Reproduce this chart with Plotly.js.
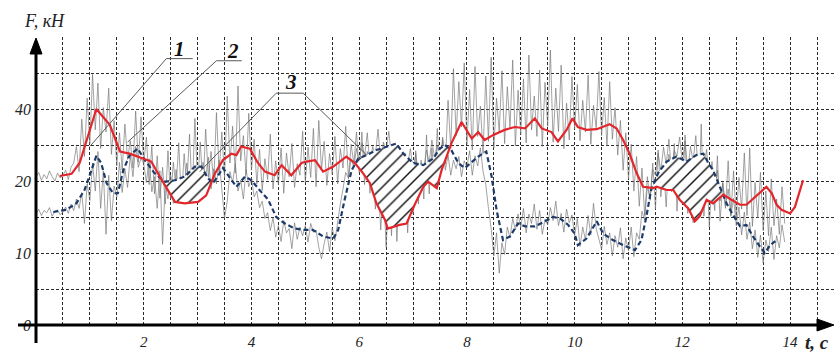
<!DOCTYPE html>
<html>
<head>
<meta charset="utf-8">
<script src="https://cdn.plot.ly/plotly-3.0.1.min.js"></script>
<style>html,body{margin:0;padding:0;background:#fff;}#chart{width:834px;height:352px;}</style>
</head>
<body>
<div id="chart"></div>
<script>
// ---- data ----
const xTickVals = [2, 4, 6, 8, 10, 12, 14];
const xTickText = ['2', '4', '6', '8', '10', '12', '14'];
const yTickVals = [0, 10, 20, 30];
const yTickText = ['0', '10', '20', '40'];

// raw measured force, upper record (sampled every 0.05 s from t = 0)
const grayUpper = [
  20.5,21.2,20.1,20.9,20.3,21.4,20.6,20.0,21.1,20.4,20.8,21.5,20.2,21.9,22.5,24.8,21.3,28.6,23.4,31.5,
  25.2,34.8,27.1,33.6,24.5,30.2,26.8,32.9,23.7,28.4,22.1,26.7,21.5,27.9,23.0,25.6,21.8,29.7,22.6,28.9,
  22.4,26.1,19.5,24.8,18.2,23.5,17.6,21.9,16.8,24.2,17.5,22.6,18.9,25.3,17.2,23.8,19.4,26.5,18.1,28.7,
  19.6,25.4,18.8,27.2,20.5,24.1,19.7,29.5,21.3,26.8,20.4,31.8,22.5,27.6,21.1,33.2,22.8,26.3,20.9,29.4,
  21.5,25.8,19.6,24.4,18.7,23.1,20.2,26.5,18.9,22.8,19.5,24.6,18.3,23.9,20.6,25.2,19.1,22.4,20.8,26.9,
  19.8,24.7,20.5,27.3,19.2,28.4,21.6,25.5,19.4,23.8,20.9,26.2,19.6,24.5,21.8,27.6,20.3,25.1,22.4,26.8,
  21.2,26.8,19.5,24.1,18.3,22.6,16.1,20.4,13.2,19.5,10.8,18.7,12.4,21.3,11.6,19.8,13.9,22.5,12.8,20.6,
  15.4,24.2,16.8,22.9,17.5,26.4,18.2,24.6,19.8,27.3,20.6,25.8,22.4,31.2,24.5,35.6,26.3,33.8,27.5,36.4,
  25.1,32.7,24.3,35.9,26.2,30.4,23.8,34.6,25.5,37.2,24.6,31.5,26.8,35.3,25.2,33.1,27.4,36.8,24.9,32.6,
  26.5,34.2,25.3,37.5,27.1,31.8,26.2,35.4,24.8,33.7,27.6,38.2,25.4,32.9,26.9,36.1,24.5,30.8,25.7,34.5,
  27.2,33.4,25.6,31.2,26.8,34.7,25.1,30.5,27.4,35.2,26.3,31.6,24.9,33.8,25.8,30.2,23.6,28.4,21.5,26.7,
  20.3,25.1,18.6,23.4,16.5,21.8,15.2,20.6,17.3,22.5,16.1,24.3,17.8,21.9,16.4,23.7,18.5,25.2,15.8,22.6,
  17.2,26.4,15.5,23.1,14.2,21.7,16.8,27.9,15.1,22.4,13.6,20.8,15.9,23.5,14.4,19.7,16.2,22.8,15.3,21.4,
  14.8,20.5,16.1,23.9,15.2,24.6,13.7,19.8,14.9,21.2,13.1,18.6,12.4,20.3,13.8,17.5,12.6,19.2,14.1
];
// raw measured force, lower record (sampled every 0.05 s from t = 0)
const grayLower = [
  15.4,16.1,15.2,15.9,15.6,16.3,15.1,15.8,16.0,15.3,15.7,16.4,15.5,16.8,15.9,17.5,16.2,18.4,14.1,19.6,
  17.3,22.5,18.6,24.1,16.2,21.4,12.6,20.8,14.5,19.3,17.8,22.6,18.4,21.7,19.1,23.5,20.6,24.8,21.9,23.2,
  22.4,19.8,23.1,18.5,20.6,16.2,21.4,11.2,19.7,17.5,20.8,16.9,21.6,18.3,20.2,19.1,22.5,17.6,21.4,20.3,
  21.8,19.4,22.6,20.5,23.3,18.9,21.7,19.6,22.9,18.4,14.8,17.2,21.3,19.8,22.4,18.6,20.1,17.5,21.6,19.2,
  20.4,17.8,18.6,16.3,17.2,14.8,15.6,13.1,14.9,12.2,13.8,11.6,14.5,12.8,13.4,10.6,14.2,11.9,13.6,12.4,
  13.8,11.5,14.1,12.9,13.2,10.8,9.2,11.3,12.9,10.2,13.5,11.7,14.6,16.8,18.9,21.2,20.4,23.1,21.9,24.5,
  22.6,25.3,23.4,26.7,22.1,24.8,23.6,27.2,22.5,25.4,24.1,26.9,23.3,25.1,22.8,24.6,21.4,23.9,22.2,24.5,
  21.6,23.8,20.9,22.5,21.8,24.3,22.6,25.7,23.1,24.9,22.4,26.1,21.5,23.6,20.8,22.9,21.7,23.4,20.6,22.8,
  21.9,24.2,20.8,23.5,22.1,24.6,21.3,19.5,16.2,13.4,9.6,12.8,7.2,11.4,9.8,13.6,12.1,14.8,13.2,15.4,
  13.5,16.2,12.8,15.4,14.1,16.8,13.3,15.9,12.6,14.7,13.9,16.3,14.5,17.2,13.8,15.5,12.9,16.1,14.2,15.3,
  12.4,14.8,10.9,13.6,11.8,15.2,12.5,16.9,13.4,12.1,10.5,13.7,11.2,12.8,9.6,12.4,10.8,13.5,9.2,12.1,
  10.3,13.6,9.5,12.8,11.9,15.8,14.6,19.3,17.5,21.6,20.8,23.9,21.4,24.7,22.3,25.8,21.1,24.2,23.5,26.1,
  22.4,25.6,21.3,24.8,22.7,26.3,20.5,23.9,21.8,24.4,19.6,22.7,18.4,21.5,17.2,19.8,16.5,18.9,15.1,17.6,
  13.8,16.4,12.5,15.7,11.9,14.3,10.6,13.2,9.4,12.5,8.6,11.8,10.2,13.6,9.1,12.4,10.7,13.9,11.5
];

// curve 2 (red, solid)
const redT = [0.44,0.66,0.81,0.97,1.12,1.37,1.56,1.74,1.99,2.14,2.30,2.45,2.58,2.76,3.01,3.16,3.32,3.47,3.63,3.72,
  3.81,3.97,4.12,4.25,4.43,4.56,4.74,4.93,5.02,5.18,5.33,5.52,5.76,5.92,6.07,6.20,6.32,6.48,6.53,6.75,
  6.88,7.03,7.19,7.28,7.44,7.53,7.71,7.90,8.09,8.21,8.33,8.49,8.70,8.89,9.08,9.26,9.39,9.57,9.69,9.85,
  9.96,10.06,10.22,10.41,10.53,10.65,10.78,10.90,11.02,11.15,11.27,11.46,11.52,11.71,11.83,11.95,12.11,12.23,12.32,12.45,
  12.57,12.76,12.91,13.07,13.19,13.35,13.44,13.56,13.66,13.75,13.84,14.00,14.09,14.15,14.24];
const redF = [20.7,21.0,22.5,26.2,30.0,27.8,24.1,23.8,23.1,22.7,20.6,18.75,17.1,16.9,17.1,18.0,21.0,22.9,23.8,23.6,
  24.8,24.5,22.5,21.3,20.8,22.2,20.8,22.5,22.7,22.9,21.3,22.0,23.4,22.5,21.1,19.7,16.9,14.6,13.4,13.9,
  14.1,16.7,19.2,19.9,19.0,21.5,25.2,28.2,25.9,26.8,25.7,26.4,27.1,27.5,27.3,28.7,27.3,26.8,25.5,27.1,
  28.7,27.5,27.1,27.2,27.5,27.9,27.3,25.7,23.8,21.1,19.2,19.0,19.2,18.75,18.75,17.4,16.2,14.4,15.1,17.4,
  16.9,18.1,17.4,16.7,16.7,17.8,18.3,19.2,18.3,16.7,16.0,15.5,16.4,17.8,20.1];

// curve (blue, dashed)
const blueT = [0.32,0.56,0.75,0.90,1.03,1.12,1.21,1.31,1.43,1.52,1.62,1.74,1.89,2.02,2.20,2.40,2.58,2.76,2.95,3.07,
  3.19,3.29,3.47,3.60,3.72,3.88,4.00,4.15,4.31,4.46,4.62,4.80,4.99,5.14,5.33,5.52,5.61,5.73,5.86,5.98,
  6.14,6.32,6.51,6.69,6.82,7.00,7.19,7.37,7.50,7.59,7.71,7.84,7.96,8.09,8.21,8.36,8.46,8.55,8.67,8.80,
  8.95,9.08,9.26,9.45,9.60,9.73,9.88,10.00,10.06,10.22,10.41,10.53,10.71,10.90,11.12,11.24,11.33,11.42,11.55,11.71,
  11.89,12.08,12.26,12.39,12.48,12.57,12.70,12.82,12.94,13.07,13.19,13.31,13.44,13.53,13.63,13.75];
const blueF = [15.7,16.0,16.9,18.75,21.5,23.5,22.5,19.7,18.3,18.3,21.5,23.6,24.5,22.9,21.1,19.9,20.1,20.6,22.0,22.0,
  20.4,19.7,21.8,20.4,19.2,20.6,20.1,18.75,17.4,15.0,14.1,13.4,13.2,13.2,12.3,12.0,13.2,17.4,21.5,23.1,
  23.6,24.3,24.8,25.2,23.8,22.5,22.2,23.1,24.5,25.0,24.3,22.5,21.8,22.7,23.4,24.1,20.6,16.0,11.8,12.3,
  14.1,13.7,13.7,14.4,15.0,14.8,13.9,12.7,11.1,12.0,14.4,12.7,11.8,11.1,10.4,11.8,15.0,18.75,21.1,22.7,
  23.4,22.7,23.6,23.8,22.5,21.5,19.0,16.9,15.3,13.7,13.9,12.3,10.9,10.0,11.1,11.8];

// spans (s) of the hatched zones "3" between the dashed and the red curve
const hatchSpans = [[2.31, 3.27], [5.93, 7.67], [11.43, 12.74]];

// ---- helpers ----
function interp(xs, ys, t) {
  for (let i = 0; i < xs.length - 1; i++) {
    if (t >= xs[i] && t <= xs[i + 1]) {
      return ys[i] + (ys[i + 1] - ys[i]) * (t - xs[i]) / (xs[i + 1] - xs[i]);
    }
  }
  return ys[ys.length - 1];
}
function hatchTrace(a, b) {
  const px = [a], py = [interp(blueT, blueF, a)];
  blueT.forEach((t, i) => { if (t > a && t < b) { px.push(t); py.push(blueF[i]); } });
  px.push(b); py.push(interp(blueT, blueF, b));
  px.push(b); py.push(interp(redT, redF, b));
  for (let i = redT.length - 1; i >= 0; i--) {
    if (redT[i] > a && redT[i] < b) { px.push(redT[i]); py.push(redF[i]); }
  }
  px.push(a); py.push(interp(redT, redF, a));
  return {
    type: 'scatter', mode: 'lines', x: px, y: py, fill: 'toself',
    fillcolor: '#ffffff', line: {width: 0}, hoverinfo: 'skip',
    fillpattern: {shape: '/', size: 9, solidity: 0.16, fgcolor: '#111111', bgcolor: '#ffffff'}
  };
}

const traces = [
  {type: 'scatter', mode: 'lines', y: grayLower, x0: 0, dx: 0.05,
   line: {color: 'rgba(115,115,115,0.66)', width: 1}},
  {type: 'scatter', mode: 'lines', y: grayUpper, x0: 0, dx: 0.05,
   line: {color: 'rgba(115,115,115,0.66)', width: 1}},
  ...hatchSpans.map(s => hatchTrace(s[0], s[1])),
  {type: 'scatter', mode: 'lines', x: blueT, y: blueF,
   line: {color: '#1d3b6a', width: 2.2, dash: '5px,3px'}},
  {type: 'scatter', mode: 'lines', x: redT, y: redF,
   line: {color: '#e3262b', width: 2.2}}
];

// ---- layout ----
const W = 834, H = 352, ML = 36, MT = 37, MB = 27;
const PW = W - ML, PH = H - MT - MB;
const px2x = p => (p - ML) / PW;      // pixel -> paper
const py2y = p => (H - MB - p) / PH;

const gridStyle = {gridcolor: '#2b2b2b', griddash: '3px,2px', gridwidth: 1};
const tickFont = {family: 'Liberation Serif, Times New Roman, serif', size: 15, style: 'italic', color: '#222'};
const labelFont = {family: 'Liberation Serif, Times New Roman, serif', size: 21, style: 'italic', weight: 'bold', color: '#111'};
const leader = {type: 'line', xref: 'x', yref: 'y', line: {color: '#5a5a5a', width: 1}};

const layout = {
  width: W, height: H,
  margin: {l: ML, r: 0, t: MT, b: MB, pad: 0},
  paper_bgcolor: '#fff', plot_bgcolor: '#fff',
  showlegend: false,
  xaxis: Object.assign({
    range: [0, 14.815], tickmode: 'array', tickvals: xTickVals, ticktext: xTickText,
    showgrid: true, zeroline: false, showline: false, ticks: '',
    tickfont: tickFont, ticklabelstandoff: 6,
    minor: Object.assign({dtick: 0.5, showgrid: true, ticks: ''}, gridStyle)
  }, gridStyle),
  yaxis: Object.assign({
    range: [0, 40], tickmode: 'array', tickvals: yTickVals, ticktext: yTickText,
    showgrid: true, zeroline: false, showline: false, ticks: '',
    tickfont: Object.assign({}, tickFont, {size: 16}), ticklabelstandoff: 4,
    minor: Object.assign({dtick: 5, showgrid: true, ticks: ''}, gridStyle)
  }, gridStyle),
  shapes: [
    // axes with arrows
    {type: 'line', xref: 'paper', yref: 'paper', x0: px2x(18), x1: px2x(822), y0: 0, y1: 0, line: {color: '#000', width: 3}},
    {type: 'path', xref: 'paper', yref: 'paper', fillcolor: '#000', line: {color: '#000', width: 1},
     path: `M ${px2x(834)} 0 L ${px2x(817)} ${6 / PH} L ${px2x(817)} ${-6 / PH} Z`},
    {type: 'line', xref: 'paper', yref: 'paper', x0: 0, x1: 0, y0: py2y(343), y1: py2y(50), line: {color: '#000', width: 3}},
    {type: 'path', xref: 'paper', yref: 'paper', fillcolor: '#000', line: {color: '#000', width: 1},
     path: `M 0 ${py2y(38)} L ${6 / PW} ${py2y(54)} L ${-6 / PW} ${py2y(54)} Z`},
    // leader for 1
    Object.assign({x0: 2.42, y0: 37.0, x1: 2.91, y1: 37.0}, leader),
    Object.assign({x0: 2.42, y0: 37.0, x1: 1.00, y1: 24.8}, leader),
    // leader for 2
    Object.assign({x0: 3.35, y0: 36.7, x1: 3.82, y1: 36.7}, leader),
    Object.assign({x0: 3.35, y0: 36.7, x1: 1.70, y1: 25.4}, leader),
    // leaders for 3
    Object.assign({x0: 4.46, y0: 32.2, x1: 4.96, y1: 32.2}, leader),
    Object.assign({x0: 4.46, y0: 32.2, x1: 3.04, y1: 21.3}, leader),
    Object.assign({x0: 4.96, y0: 32.2, x1: 6.14, y1: 23.6}, leader)
  ],
  annotations: [
    {text: '1', xref: 'x', yref: 'y', x: 2.67, y: 38.3, showarrow: false, font: labelFont},
    {text: '2', xref: 'x', yref: 'y', x: 3.66, y: 38.0, showarrow: false, font: labelFont},
    {text: '3', xref: 'x', yref: 'y', x: 4.73, y: 33.8, showarrow: false, font: labelFont},
    {text: 'F, кН', xref: 'paper', yref: 'paper', x: px2x(22), y: py2y(21), xanchor: 'left', yanchor: 'middle',
     showarrow: false, font: {family: 'Liberation Serif, Times New Roman, serif', size: 18, style: 'italic', color: '#222'}},
    {text: 't, c', xref: 'paper', yref: 'paper', x: px2x(803), y: py2y(342), xanchor: 'left', yanchor: 'middle',
     showarrow: false, font: {family: 'Liberation Serif, Times New Roman, serif', size: 19, style: 'italic', weight: 'bold', color: '#222'}}
  ]
};

Plotly.newPlot('chart', traces, layout, {displayModeBar: false, staticPlot: true});
</script>
</body>
</html>
